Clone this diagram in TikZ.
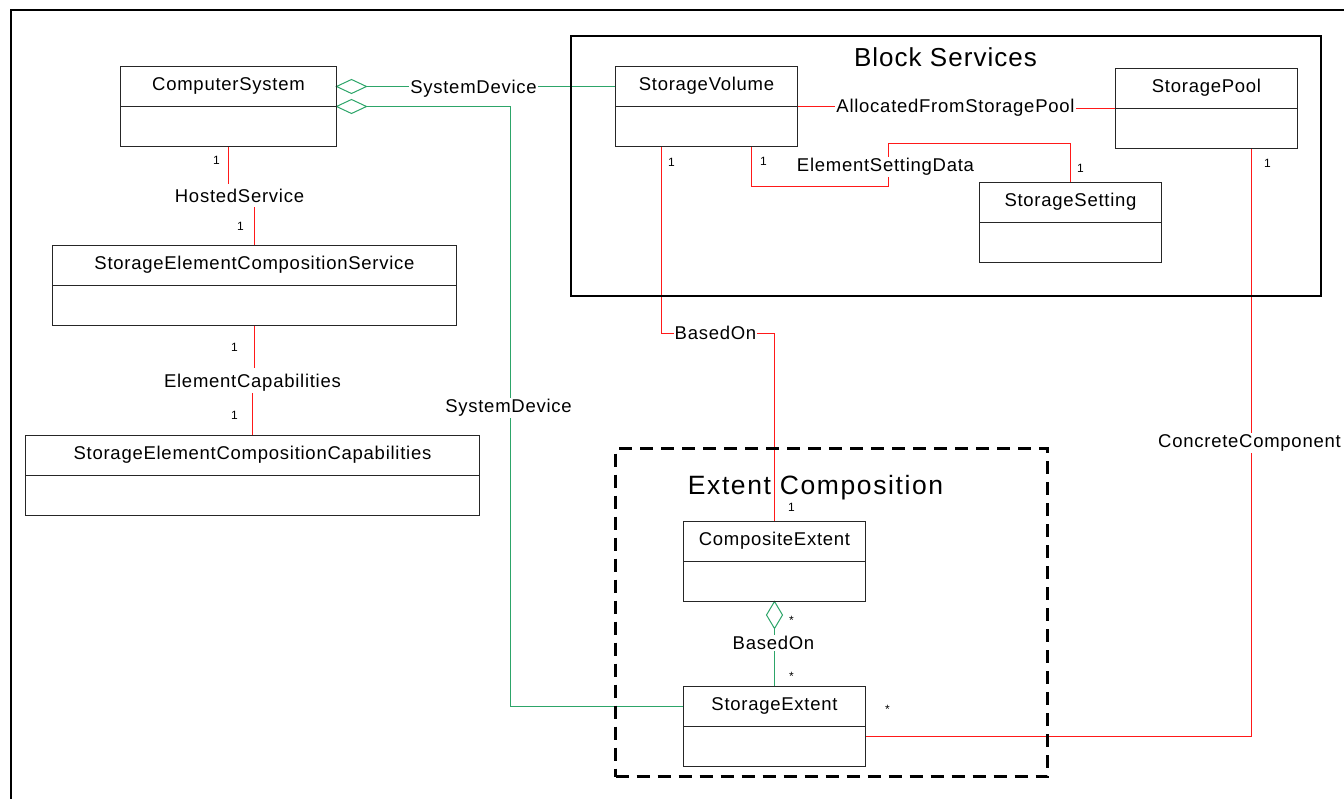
\documentclass[tikz,border=0pt]{standalone}
\usepackage{fontspec}
\usetikzlibrary{calc,backgrounds}
\newfontfamily\umlfont[LetterSpace=4]{Liberation Sans}
\newfontfamily\bstitlefont[LetterSpace=4]{Liberation Sans}
\newfontfamily\ectitlefont[LetterSpace=6]{Liberation Sans}
\definecolor{assocred}{RGB}{255,25,25}
\definecolor{assocgreen}{RGB}{45,165,105}
\newcommand\umlclass[5]{%
  \node[classbox, minimum width=#4pt] (#1) at (#2,#3+40) {};
  \draw[divider] (#1.west) -- (#1.east);
  \node[cname] (#1-t) at (#2,#3+24) {#5};
}
\begin{document}
\begin{tikzpicture}[x=1pt,y=-1pt,
  classbox/.style={draw=black!85,line width=1.4pt,minimum height=80pt,inner sep=0pt,outer sep=0pt},
  divider/.style={draw=black!85,line width=1.4pt},
  cname/.style={anchor=base,font=\umlfont\fontsize{18.5}{20}\selectfont,inner sep=0pt},
  alabel/.style={anchor=base,font=\umlfont\fontsize{18.5}{20}\selectfont,fill=white,inner xsep=1pt,inner ysep=1.5pt},
  mult/.style={font=\umlfont\fontsize{12}{14}\selectfont,inner sep=0pt},
  assocr/.style={draw=assocred,line width=1pt},
  assocg/.style={draw=assocgreen,line width=1pt},
  pkgframe/.style={draw=black,line width=2pt,inner sep=0pt,outer sep=0pt,anchor=north west},
  pkgtitle/.style={anchor=base,inner sep=0pt}
]
\useasboundingbox (0,0) rectangle (1344,799);
\begin{scope}[shift={(0.5,0.5)}]
% outer frame
\draw[line width=2pt] (10,805) -- (10,10) -- (1350,10);

% packages
\node[pkgframe, minimum width=750pt, minimum height=260pt] (bs) at (570,36) {};
\node[pkgtitle, font=\bstitlefont\fontsize{26}{28}\selectfont] (bs-t) at (945,66.5) {Block Services};
\node[pkgframe, line width=3pt, dash pattern=on 13pt off 8pt, minimum width=432pt, minimum height=328pt] (ecp) at (615,448) {};
\node[pkgtitle, font=\ectitlefont\fontsize{26.5}{28}\selectfont] (ecp-t) at (815,494) {Extent Composition};

% classes
\umlclass{cs}{228}{66}{216}{ComputerSystem}
\umlclass{secs}{254}{245}{404}{StorageElementCompositionService}
\umlclass{secc}{252}{435}{454}{StorageElementCompositionCapabilities}
\umlclass{sv}{706}{66}{182}{StorageVolume}
\umlclass{sp}{1206}{68}{182}{StoragePool}
\umlclass{ss}{1070}{182}{182}{StorageSetting}
\umlclass{ce}{774}{521}{182}{CompositeExtent}
\umlclass{se}{774}{686}{182}{StorageExtent}

% association labels
\node[alabel] (sd1) at (473,93) {SystemDevice};
\node[alabel] (sd2) at (508,412) {SystemDevice};
\node[alabel] (hs) at (239,202) {HostedService};
\node[alabel] (ecap) at (252,387) {ElementCapabilities};
\node[alabel] (afsp) at (955,112) {AllocatedFromStoragePool};
\node[alabel] (esd) at (885,171) {ElementSettingData};
\node[alabel] (bo1) at (715,339) {BasedOn};
\node[alabel] (cc) at (1249,447) {ConcreteComponent};
\node[alabel] (bo2) at (773,649) {BasedOn};

% multiplicities
\node[mult] (m1) at (216,160) {1};
\node[mult] (m2) at (240,226) {1};
\node[mult] (m3) at (234,347) {1};
\node[mult] (m4) at (234,415) {1};
\node[mult] (m5) at (671,162) {1};
\node[mult] (m6) at (763,161) {1};
\node[mult] (m7) at (1080,168) {1};
\node[mult] (m8) at (1267,163) {1};
\node[mult] (m9) at (791,507) {1};
\node[mult] (m10) at (791,620) {*};
\node[mult] (m11) at (791,676) {*};
\node[mult] (m12) at (887,709) {*};

% connectors
\begin{pgfonlayer}{background}
\fill[white] (-1,-1) rectangle (1350,805);
\coordinate (d1) at ($(cs.north east)+(0,20)$);
\coordinate (d2) at (cs.east);
\draw[assocg] (d1) -- ++(15,-7) -- ++(15,7) coordinate (d1r) -- ++(-15,7) -- cycle;
\draw[assocg] (d2) -- ++(15,-7) -- ++(15,7) coordinate (d2r) -- ++(-15,7) -- cycle;
\draw[assocg] (d1r) -- (sv.west |- d1r);
\draw[assocg] (d2r) -- (510,106) -- (510,706) -- (se.west |- 0,706);
\draw[assocr] (cs.south) -- ++(0,38);
\draw[assocr] (secs.north) -- ++(0,-38);
\draw[assocr] (secs.south) -- ++(0,43);
\draw[assocr] (secc.north) -- ++(0,-43);
\draw[assocr] (sv.east) -- (afsp.west |- sv.east);
\draw[assocr] (afsp.east |- sp.west) -- (sp.west);
\draw[assocr] ($(sv.south)+(45,0)$) -- ++(0,40) -- (888,186) -- (888,143) -- (ss.north |- 0,143) -- (ss.north);
\draw[assocr] ($(sv.south)+(-45,0)$) -- (661,333) -- (ce.north |- 0,333) -- (ce.north);
\draw[assocr] ($(sp.south)+(45,0)$) -- (1251,736) -- (se.east |- 0,736);
\draw[assocg] (ce.south) -- ++(8,13.5) -- ++(-8,13.5) coordinate (d3b) -- ++(-8,-13.5) -- cycle;
\draw[assocg] (d3b) -- (se.north);
\end{pgfonlayer}
\end{scope}
\end{tikzpicture}
\end{document}
